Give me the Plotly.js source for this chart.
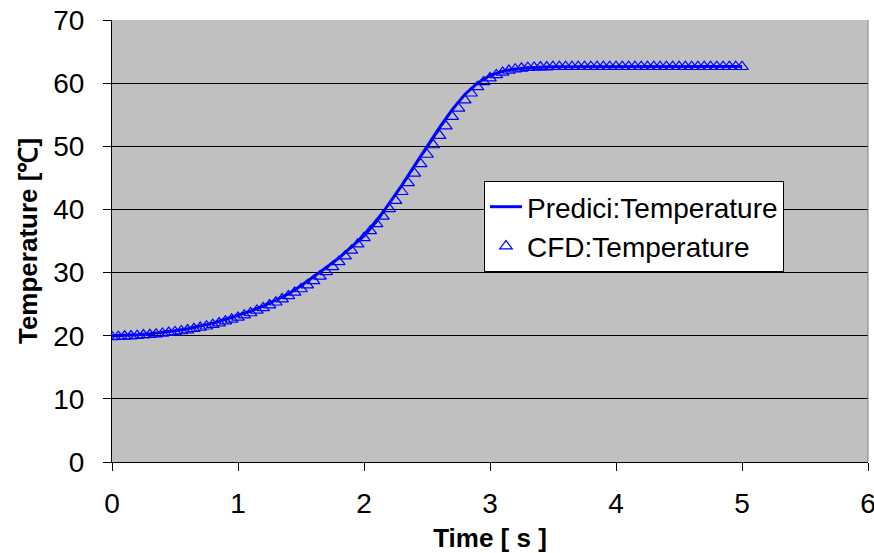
<!DOCTYPE html>
<html>
<head>
<meta charset="utf-8">
<script src="https://cdn.plot.ly/plotly-3.0.1.min.js"></script>
<style>html,body{margin:0;padding:0;background:#fff;}#chart{width:874px;height:553px;}</style>
</head>
<body>
<div id="chart"></div>
<script>
// Predici model (0.1 s steps)
const prediciTime = [0.0,0.1,0.2,0.3,0.4,0.5,0.6,0.7,0.8,0.9,1.0,1.1,1.2,1.3,1.4,1.5,1.6,1.7,1.8,1.9,2.0,2.1,2.2,2.3,2.4,2.5,2.6,2.7,2.8,2.9,3.0,3.1,3.2,3.3,3.4,3.5,3.6,3.7,3.8,3.9,4.0,4.1,4.2,4.3,4.4,4.5,4.6,4.7,4.8,4.9,5.0];
const prediciTemp = [20.0,20.05,20.15,20.3,20.5,20.8,21.1,21.5,22.0,22.6,23.2,23.9,24.7,25.6,26.6,27.9,29.3,30.8,32.3,34.0,35.8,38.1,40.9,43.8,46.9,50.0,53.0,55.8,58.2,60.0,61.2,61.9,62.25,62.45,62.55,62.6,62.6,62.6,62.6,62.65,62.65,62.65,62.65,62.65,62.65,62.65,62.65,62.65,62.65,62.65,62.65];

// CFD results (0.05 s steps)
const cfdTime = [0.00,0.05,0.10,0.15,0.20,0.25,0.30,0.35,0.40,0.45,0.50,0.55,0.60,0.65,0.70,0.75,0.80,0.85,0.90,0.95,1.00,1.05,1.10,1.15,1.20,1.25,1.30,1.35,1.40,1.45,1.50,1.55,1.60,1.65,1.70,1.75,1.80,1.85,1.90,1.95,2.00,2.05,2.10,2.15,2.20,2.25,2.30,2.35,2.40,2.45,2.50,2.55,2.60,2.65,2.70,2.75,2.80,2.85,2.90,2.95,3.00,3.05,3.10,3.15,3.20,3.25,3.30,3.35,3.40,3.45,3.50,3.55,3.60,3.65,3.70,3.75,3.80,3.85,3.90,3.95,4.00,4.05,4.10,4.15,4.20,4.25,4.30,4.35,4.40,4.45,4.50,4.55,4.60,4.65,4.70,4.75,4.80,4.85,4.90,4.95,5.00];
const cfdTemp = [19.8,19.85,19.9,19.95,20.0,20.1,20.15,20.25,20.35,20.5,20.6,20.75,20.9,21.1,21.3,21.5,21.75,22.0,22.3,22.6,22.9,23.25,23.6,24.0,24.4,24.85,25.3,25.8,26.3,26.85,27.4,28.0,28.7,29.4,30.1,30.9,31.7,32.6,33.5,34.5,35.5,36.6,37.7,38.9,40.1,41.4,42.8,44.2,45.7,47.2,48.7,50.2,51.7,53.2,54.7,56.0,57.3,58.4,59.4,60.2,60.8,61.3,61.7,62.0,62.2,62.35,62.45,62.5,62.55,62.55,62.6,62.6,62.6,62.6,62.6,62.6,62.6,62.6,62.6,62.6,62.6,62.6,62.6,62.6,62.6,62.6,62.6,62.6,62.6,62.6,62.6,62.6,62.6,62.6,62.6,62.6,62.6,62.6,62.6,62.6,62.6];

const xTicks = [0,1,2,3,4,5,6];
const yTicks = [0,10,20,30,40,50,60,70];

const FONT = 'Liberation Sans, Arial, sans-serif';
const FS = 28;
const TFS = 26;

const traces = [
  {
    x: prediciTime, y: prediciTemp, type: 'scatter', mode: 'lines',
    name: 'Predici:Temperature', legendgroup: 'a',
    line: {color: '#0000ff', width: 3}
  },
  {
    x: cfdTime, y: cfdTemp, type: 'scatter', mode: 'markers',
    name: 'CFD:Temperature', legendgroup: 'b',
    marker: {symbol: 'triangle-up-open', size: 11, color: '#0000ff', line: {width: 1.2, color: '#0000ff'}}
  }
];

const layout = {
  width: 874, height: 553,
  margin: {l: 112, r: 6, t: 20, b: 91},
  paper_bgcolor: '#ffffff',
  plot_bgcolor: '#c0c0c0',
  font: {family: FONT, size: FS, color: '#000'},
  showlegend: true,
  legend: {
    x: (484 - 112) / 756, y: (462 - 181) / 442, xanchor: 'left', yanchor: 'top',
    bgcolor: '#ffffff', bordercolor: '#000000', borderwidth: 1,
    font: {family: FONT, size: FS, color: '#000'},
    traceorder: 'grouped', tracegroupgap: 0,
    itemwidth: 32
  },
  xaxis: {
    range: [0, 6], tickvals: xTicks, ticktext: xTicks.map(String),
    showgrid: false, zeroline: false,
    showline: true, linecolor: '#000', linewidth: 1,
    ticks: 'outside', ticklen: 8, tickcolor: '#000', tickwidth: 1,
    ticklabelstandoff: 8,
    ticklabeloverflow: 'allow',
    tickfont: {family: FONT, size: FS},
    title: {text: '<b>Time [ s ]</b>', font: {family: FONT, size: TFS}, standoff: 12}
  },
  yaxis: {
    range: [0, 70], tickvals: yTicks, ticktext: yTicks.map(String),
    showgrid: true, gridcolor: '#000', gridwidth: 1,
    zeroline: false,
    showline: true, linecolor: '#000', linewidth: 1,
    ticks: 'outside', ticklen: 8, tickcolor: '#000', tickwidth: 1,
    ticklabelstandoff: 13,
    ticklabeloverflow: 'allow',
    tickfont: {family: FONT, size: FS},
    title: {text: '<b>Temperature [℃]</b>', font: {family: FONT, size: TFS}, standoff: 8}
  },
  shapes: [
    {type: 'line', xref: 'paper', yref: 'paper', x0: 1, x1: 1, y0: 0, y1: 1, line: {color: '#808080', width: 1}}
  ]
};

Plotly.newPlot('chart', traces, layout, {displayModeBar: false, staticPlot: true});
</script>
</body>
</html>
